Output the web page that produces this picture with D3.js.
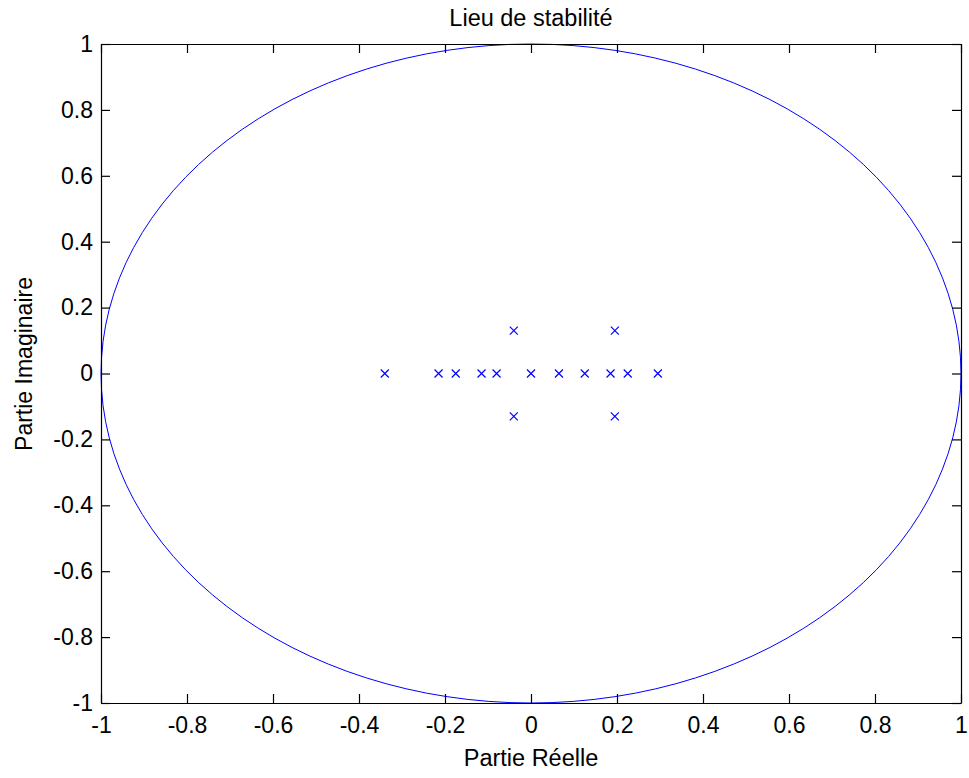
<!DOCTYPE html>
<html>
<head>
<meta charset="utf-8">
<script src="https://cdn.jsdelivr.net/npm/d3@7"></script>
<style>
  body { margin: 0; background: #fff; }
  svg text { font-family: "Liberation Sans", Arial, sans-serif; fill: #000; }
</style>
</head>
<body>
<svg id="chart" width="969" height="778"></svg>
<script>
// pole locations
const poleRe = [-0.34, -0.215, -0.175, -0.115, -0.08, 0, 0.065, 0.125, 0.185, 0.225, 0.295, -0.04, -0.04, 0.195, 0.195];
const poleIm = [0, 0, 0, 0, 0, 0, 0, 0, 0, 0, 0, 0.13, -0.13, 0.13, -0.13];

const xTicks = [-1, -0.8, -0.6, -0.4, -0.2, 0, 0.2, 0.4, 0.6, 0.8, 1];
const yTicks = [-1, -0.8, -0.6, -0.4, -0.2, 0, 0.2, 0.4, 0.6, 0.8, 1];

const svg = d3.select("#chart");
const plotL = 101, plotR = 961, plotT = 44, plotB = 703;

const x = d3.scaleLinear().domain([-1, 1]).range([plotL, plotR]);
const y = d3.scaleLinear().domain([-1, 1]).range([plotB, plotT]);

// unit circle (stability limit)
svg.append("ellipse")
  .attr("cx", x(0)).attr("cy", y(0))
  .attr("rx", x(1) - x(0)).attr("ry", y(-1) - y(0))
  .attr("fill", "none")
  .attr("stroke", "#0000ff")
  .attr("stroke-width", 1);

// poles as x markers
const poles = poleRe.map((re, i) => ({re: re, im: poleIm[i]}));
const s = 4;
svg.append("g").attr("class", "poles")
  .selectAll("path")
  .data(poles)
  .enter()
  .append("path")
  .attr("d", d => `M${x(d.re) - s},${y(d.im) - s}L${x(d.re) + s},${y(d.im) + s}M${x(d.re) - s},${y(d.im) + s}L${x(d.re) + s},${y(d.im) - s}`)
  .attr("stroke", "#0000ff")
  .attr("stroke-width", 1.2)
  .attr("fill", "none");

const tick = 9;
const fmt = d => String(d).replace("−", "-");

svg.append("g")
  .attr("transform", `translate(0,${plotB})`)
  .call(d3.axisBottom(x).tickValues(xTicks).tickSize(-tick).tickSizeOuter(0).tickPadding(14).tickFormat(fmt));
svg.append("g")
  .attr("transform", `translate(0,${plotT})`)
  .call(d3.axisTop(x).tickValues(xTicks).tickSize(-tick).tickSizeOuter(0).tickFormat(""));
svg.append("g")
  .attr("transform", `translate(${plotL},0)`)
  .call(d3.axisLeft(y).tickValues(yTicks).tickSize(-tick).tickSizeOuter(0).tickPadding(8).tickFormat(fmt));
svg.append("g")
  .attr("transform", `translate(${plotR},0)`)
  .call(d3.axisRight(y).tickValues(yTicks).tickSize(-tick).tickSizeOuter(0).tickFormat(""));

svg.selectAll(".domain, .tick line").attr("stroke", "#000").attr("stroke-width", 1.2);
svg.selectAll(".tick text").style("font-size", "23px").attr("fill", "#000");

svg.append("text")
  .attr("x", (plotL + plotR) / 2).attr("y", 26)
  .attr("text-anchor", "middle")
  .style("font-size", "23.5px")
  .text("Lieu de stabilité");

svg.append("text")
  .attr("x", (plotL + plotR) / 2).attr("y", 766)
  .attr("text-anchor", "middle")
  .style("font-size", "23.5px")
  .text("Partie Réelle");

svg.append("text")
  .attr("transform", "translate(32,364) rotate(-90)")
  .attr("text-anchor", "middle")
  .style("font-size", "23px")
  .text("Partie Imaginaire");
</script>
</body>
</html>
